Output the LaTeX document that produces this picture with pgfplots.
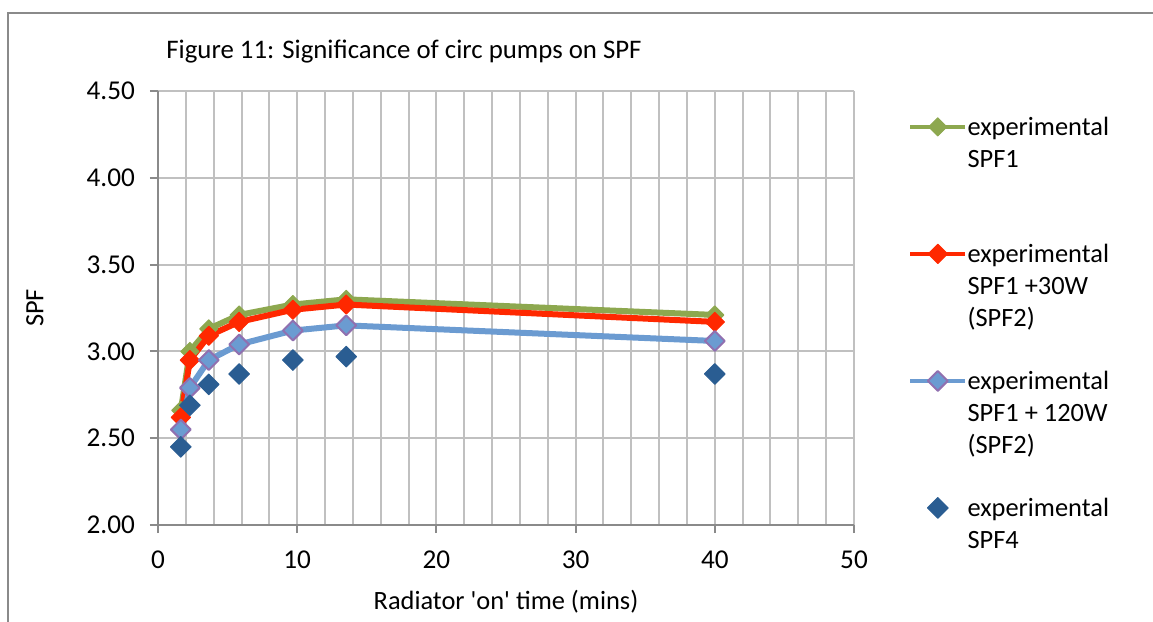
\documentclass[border=0pt]{standalone}
\usepackage{pgfplots}
\usepackage{pgfplotstable}
\pgfplotsset{compat=1.18}
\usepackage{fontspec}
\setmainfont{Carlito}

\definecolor{spfgreen}{HTML}{8DA84F}
\definecolor{spfred}{HTML}{FF2800}
\definecolor{spflblue}{HTML}{6B9BD1}
\definecolor{spfpurple}{HTML}{9070B0}
\definecolor{spfdblue}{HTML}{2A5D92}
\definecolor{gridgray}{HTML}{C0C0C0}
\definecolor{axisgray}{HTML}{8A8A8A}

% radiator on time (mins) vs SPF
\pgfplotstableread{
t      spf1  spf1w30  spf1w120  spf4
1.64   2.66  2.62     2.55      2.45
2.29   3.00  2.95     2.79      2.69
3.65   3.13  3.09     2.95      2.81
5.83   3.21  3.17     3.04      2.87
9.69   3.27  3.24     3.12      2.95
13.52  3.30  3.27     3.15      2.97
40     3.21  3.17     3.06      2.87
}\spfdata

% legend text: fixed height and depth, so row sep alone sets the spacing
\newcommand{\legtext}[1]{\raisebox{0pt}[10pt][6pt]{\parbox[t]{80pt}{#1}}}

\begin{document}
\begin{tikzpicture}[x=1pt,y=1pt]
\path[use as bounding box] (0,0) rectangle (576.5,311);
\draw[axisgray,line width=1pt] (4,0) -- (4,304.5) -- (576.5,304.5);

\begin{axis}[
scale only axis,
width=348pt,
height=217pt,
at={(79pt,48.5pt)},
anchor=south west,
xmin=0, xmax=50,
ymin=2, ymax=4.5,
xtick={0,10,...,50},
minor x tick num=4,
ytick={2,2.5,...,4.5},
grid=both,
grid style={gridgray,line width=1pt},
minor grid style={gridgray,line width=1pt},
axis x line*=bottom,
axis y line*=left,
axis line style={axisgray,line width=1pt,-},
tick style={axisgray,line width=1pt},
tick align=outside,
major tick length=4pt,
minor tick length=0pt,
font=\fontsize{13.2}{16}\selectfont,
ticklabel style={font=\fontsize{13.6}{16}\selectfont},
/pgf/number format/assume math mode=true,
yticklabel style={xshift=-4pt,/pgf/number format/.cd,fixed,fixed zerofill,precision=2},
xticklabel style={yshift=-5.5pt,/pgf/number format/.cd,fixed,precision=0},
xlabel={Radiator \textquotesingle on\textquotesingle\ time (mins)},
ylabel={SPF},
every axis x label/.style={at={(axis description cs:0.5,-0.177)},anchor=center},
every axis y label/.style={at={(axis description cs:-0.177,0.5)},anchor=center,rotate=90},
clip=false,
legend cell align=left,
legend style={at={(axis description cs:1.0772,0.9447)},anchor=north west,draw=none,fill=none,
  inner sep=0pt,row sep=52pt,column sep=0pt,font=\fontsize{13.2}{16}\selectfont,
  nodes={inner sep=0pt,outer sep=0pt}},
legend image code/.code={\draw[mark repeat=2,mark phase=2,#1,line width=2.2pt]
  plot coordinates {(0pt,0pt)(13.75pt,0pt)(27.5pt,0pt)};},
line join=round,
]

\addplot[color=spfgreen,line width=3pt,mark=square*,
  mark options={rotate=45,solid,line width=0.5pt,fill=spfgreen,draw=spfgreen},mark size=3.2pt]
  table[x=t,y=spf1]{\spfdata};
\addlegendentry{\legtext{experimental\\SPF1}}

\addplot[color=spfred,line width=3pt,mark=square*,
  mark options={rotate=45,solid,line width=0.5pt,fill=spfred,draw=spfred},mark size=3.4pt]
  table[x=t,y=spf1w30]{\spfdata};
\addlegendentry{\legtext{experimental\\SPF1 +30W\\(SPF2)}}

\addplot[color=spflblue,line width=3pt,mark=square*,
  mark options={rotate=45,solid,line width=1pt,fill=spflblue,draw=spfpurple},mark size=3.5pt]
  table[x=t,y=spf1w120]{\spfdata};
\addlegendentry{\legtext{experimental\\SPF1 + 120W\\(SPF2)}}

\addplot[only marks,mark=square*,
  mark options={rotate=45,line width=0.5pt,fill=spfdblue,draw=spfdblue},mark size=3.65pt]
  table[x=t,y=spf4]{\spfdata};
\addlegendentry{\legtext{experimental\\SPF4}}

\node[anchor=west,inner sep=0pt,font=\fontsize{13.4}{16}\selectfont] at (axis description cs:0.0115,1.0899)
  {Figure 11: Significance of circ pumps on SPF};

\end{axis}
\end{tikzpicture}
\end{document}
